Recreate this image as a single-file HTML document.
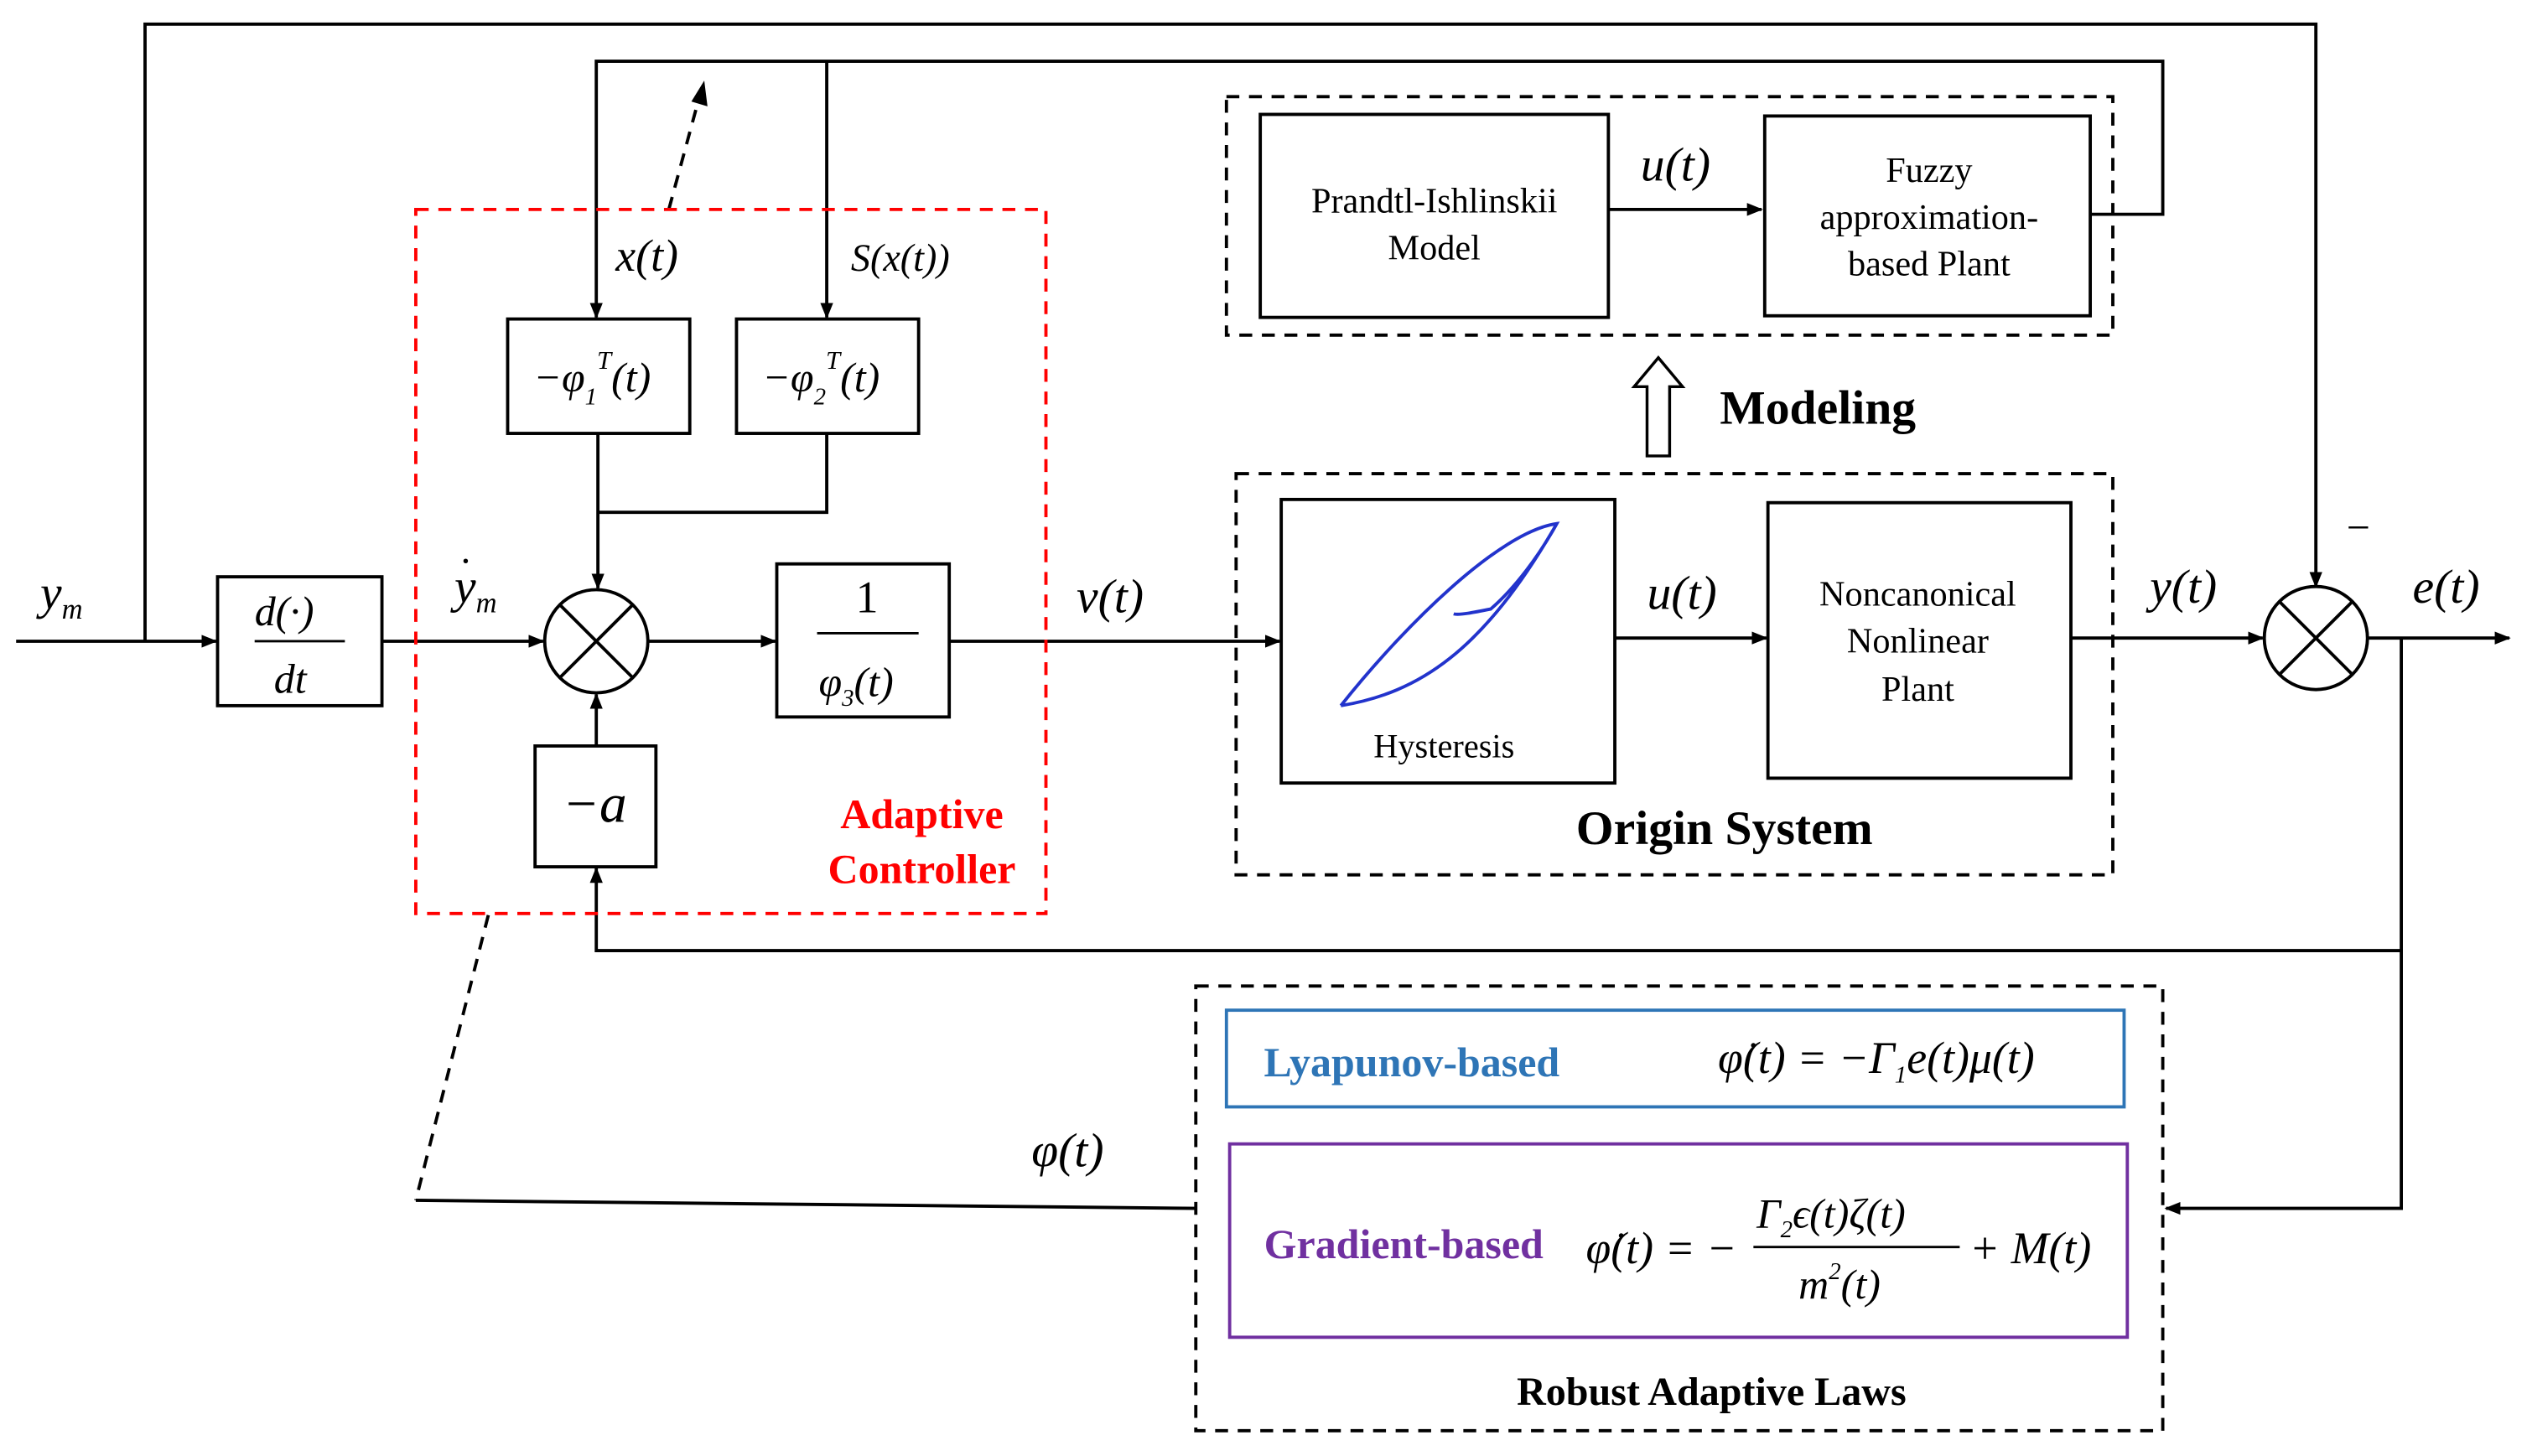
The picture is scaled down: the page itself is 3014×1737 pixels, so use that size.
<!DOCTYPE html>
<html><head><meta charset="utf-8"><style>html,body{margin:0;padding:0;background:#fff}svg{display:block}</style></head>
<body>
<svg width="3014" height="1737" viewBox="0 0 1568 903.7" preserveAspectRatio="none" xmlns="http://www.w3.org/2000/svg" font-family="Liberation Serif, serif">
<defs>
<marker id="a" markerWidth="10" markerHeight="8" refX="9" refY="4" orient="auto" markerUnits="userSpaceOnUse"><path d="M0,0 L10,4 L0,8 z" fill="#000"/></marker>
</defs>
<g stroke="#000" stroke-width="2" fill="none">
<polyline points="90,398 90,15 1437,15 1437,364" marker-end="url(#a)"/>
<polyline points="1297,133 1342,133 1342,38 370,38 370,197" marker-end="url(#a)"/>
<line x1="513" y1="38" x2="513" y2="197" marker-end="url(#a)"/>
<line x1="10" y1="398" x2="134" y2="398" marker-end="url(#a)"/>
<rect x="135" y="358" width="102" height="80"/>
<line x1="237" y1="398" x2="337" y2="398" marker-end="url(#a)"/>
<circle cx="370" cy="398" r="32"/>
<line x1="347" y1="375" x2="393" y2="421"/><line x1="393" y1="375" x2="347" y2="421"/>
<rect x="315" y="198" width="113" height="71"/>
<rect x="457" y="198" width="113" height="71"/>
<line x1="371" y1="269" x2="371" y2="365" marker-end="url(#a)"/>
<polyline points="513,269 513,318 371,318"/>
<line x1="402" y1="398" x2="481" y2="398" marker-end="url(#a)"/>
<rect x="482" y="350" width="107" height="95"/>
<line x1="589" y1="398" x2="794" y2="398" marker-end="url(#a)"/>
<rect x="332" y="463" width="75" height="75"/>
<line x1="370" y1="463" x2="370" y2="431" marker-end="url(#a)"/>
<polyline points="1490,590 370,590 370,539" marker-end="url(#a)"/>
<rect x="795" y="310" width="207" height="176"/>
<rect x="1097" y="312" width="188" height="171"/>
<line x1="1002" y1="396" x2="1096" y2="396" marker-end="url(#a)"/>
<line x1="1285" y1="396" x2="1404" y2="396" marker-end="url(#a)"/>
<circle cx="1437" cy="396" r="32"/>
<line x1="1414" y1="373" x2="1460" y2="419"/><line x1="1460" y1="373" x2="1414" y2="419"/>
<line x1="1469" y1="396" x2="1557" y2="396" marker-end="url(#a)"/>
<polyline points="1490,396 1490,750 1344,750" marker-end="url(#a)"/>
<rect x="782" y="71" width="216" height="126"/>
<rect x="1095" y="72" width="202" height="124"/>
<line x1="998" y1="130" x2="1093" y2="130" marker-end="url(#a)"/>
<path d="M1022,283 L1022,240 L1014,240 L1029,222 L1044,240 L1036,240 L1036,283 Z" stroke-width="1.8"/>
<polyline points="258,745 742,750"/>
</g>
<g stroke="#000" stroke-width="2" fill="none" stroke-dasharray="8,6">
<rect x="761" y="60" width="550" height="148"/>
<rect x="767" y="294" width="544" height="249"/>
<rect x="742" y="612" width="600" height="276"/>
<line x1="303" y1="568" x2="258" y2="745"/>
<line x1="415" y1="130" x2="434" y2="60"/>
</g>
<path d="M437,50 L439,66 L429,63 Z" fill="#000"/>
<rect x="258" y="130" width="391" height="437" fill="none" stroke="#f00" stroke-width="2" stroke-dasharray="8,6"/>
<rect x="761" y="627" width="557" height="60" fill="none" stroke="#2e75b6" stroke-width="2"/>
<rect x="763" y="710" width="557" height="120" fill="none" stroke="#7030a0" stroke-width="2"/>
<path d="M832,438 C870,390 930,330 966,325 C955,345 940,365 925,378 C915,380 905,382 902,381 M832,438 C880,430 920,405 966,325" stroke="#2233cc" stroke-width="2" fill="none"/>
<g font-style="italic" font-size="30" fill="#000">
<text x="25" y="378">y<tspan font-size="18" dy="6">m</tspan></text>
<text x="282" y="374">y<tspan font-size="18" dy="6">m</tspan></text>
<text x="285" y="356" font-size="24" font-style="normal">·</text>
<text x="382" y="168" font-size="28">x(t)</text>
<text x="528" y="168" font-size="24">S(x(t))</text>
<text x="668" y="380">v(t)</text>
<text x="1018" y="112">u(t)</text>
<text x="1022" y="378">u(t)</text>
<text x="1334" y="374">y(t)</text>
<text x="1497" y="374">e(t)</text>
<text x="640" y="724">φ(t)</text>
<text x="331" y="243" font-size="26">−φ<tspan font-size="15" dy="8">1</tspan><tspan font-size="16" dy="-22">T</tspan><tspan dy="14">(t)</tspan></text>
<text x="473" y="243" font-size="26">−φ<tspan font-size="15" dy="8">2</tspan><tspan font-size="16" dy="-22">T</tspan><tspan dy="14">(t)</tspan></text>
<text x="158" y="388" font-size="26">d(·)</text>
<text x="170" y="430" font-size="26">dt</text>
<text x="349" y="510" font-size="34">−a</text>
<text x="508" y="432" font-size="26">φ<tspan font-size="15" dy="6">3</tspan><tspan dy="-6">(t)</tspan></text>
<text x="1066" y="666" font-size="28">φ̇(t) = −Γ<tspan font-size="15" dy="6">1</tspan><tspan dy="-6">e(t)μ(t)</tspan></text>
<text x="984" y="784" font-size="28">φ̇(t) = −</text>
<text x="1090" y="762" font-size="26">Γ<tspan font-size="15" dy="6">2</tspan><tspan dy="-6">ϵ(t)ζ(t)</tspan></text>
<text x="1116" y="806" font-size="26">m<tspan font-size="15" dy="-12">2</tspan><tspan dy="12">(t)</tspan></text>
<text x="1222" y="784" font-size="28">+ M(t)</text>
</g>
<g stroke="#000" stroke-width="1.5"><line x1="158" y1="398" x2="214" y2="398"/><line x1="507" y1="393" x2="570" y2="393"/><line x1="1088" y1="774" x2="1216" y2="774"/></g>
<text x="538" y="380" font-size="28" text-anchor="middle">1</text>
<text x="1456" y="336" font-size="26">−</text>
<g font-size="22" text-anchor="middle" fill="#000">
<text x="890" y="132">Prandtl-Ishlinskii</text><text x="890" y="161">Model</text>
<text x="1197" y="113">Fuzzy</text><text x="1197" y="142">approximation-</text><text x="1197" y="171">based Plant</text>
<text x="1190" y="376">Noncanonical</text><text x="1190" y="405">Nonlinear</text><text x="1190" y="435">Plant</text>
<text x="896" y="470" font-size="21">Hysteresis</text>
</g>
<g font-weight="bold" text-anchor="middle">
<text x="1128" y="263" font-size="30">Modeling</text>
<text x="1070" y="524" font-size="30">Origin System</text>
<text x="1062" y="872" font-size="25">Robust Adaptive Laws</text>
<text x="572" y="514" font-size="26" fill="#f00">Adaptive</text>
<text x="572" y="548" font-size="26" fill="#f00">Controller</text>
<text x="876" y="668" font-size="26" fill="#2e75b6">Lyapunov-based</text>
<text x="871" y="781" font-size="26" fill="#7030a0">Gradient-based</text>
</g>
</svg>
</body></html>
